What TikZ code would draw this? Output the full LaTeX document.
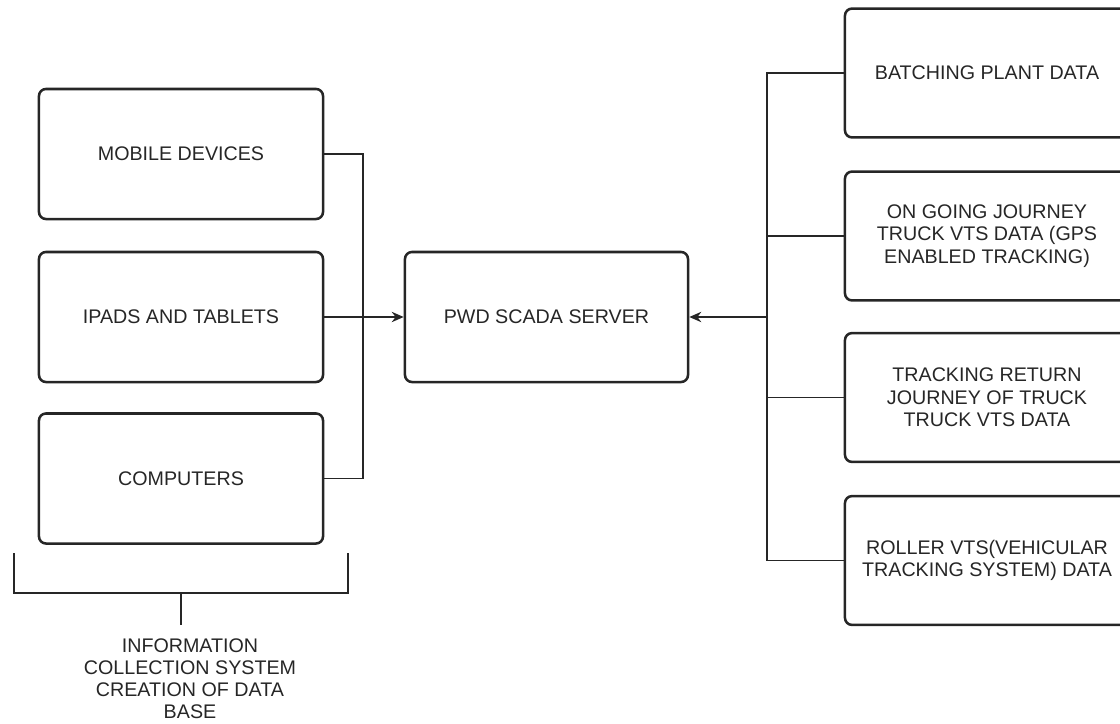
\documentclass[tikz,border=0pt]{standalone}
\usepackage{fontspec}
\setmainfont{Liberation Sans}
\usetikzlibrary{arrows.meta}

\begin{document}
\begin{tikzpicture}[x=0.025cm, y=-0.025cm,
        box/.style={draw=black!85, line width=1.8pt, rounded corners=5pt, align=center,
            text=black!85, font=\fontsize{14}{16}\selectfont, inner sep=2pt},
        leftbox/.style={box, minimum width=7.1cm, minimum height=3.25cm},
        rightbox/.style={box, minimum width=7.1cm, minimum height=3.22cm},
        link/.style={draw=black!85, line width=1pt},
        tip/.style={-{Stealth[length=3mm, width=2.6mm]}},
        bracket/.style={draw=black!85, line width=1.8pt}]
        \clip (0,0) rectangle (1120,724);

        \node[leftbox] (mobile) at (181, 154) {MOBILE DEVICES};
        \node[leftbox] (ipads) at (181, 317) {IPADS AND TABLETS};
        \node[leftbox] (computers) at (181, 478.5) {COMPUTERS};

        \node[leftbox, minimum width=7.075cm] (server) at (546.5, 317) {PWD SCADA SERVER};

        \node[rightbox] (batching) at (987, 73) {BATCHING PLANT DATA};
        \node[rightbox] (ongoing) at (987, 236) {ON GOING JOURNEY\\TRUCK VTS DATA (GPS\\ENABLED TRACKING)};
        \node[rightbox] (returnj) at (987, 397.5) {TRACKING RETURN\\JOURNEY OF TRUCK\\TRUCK VTS DATA};
        \node[rightbox] (roller) at (987, 560.5) {ROLLER VTS(VEHICULAR\\TRACKING SYSTEM) DATA};

        \node[text=black!85, align=center, inner sep=1pt, font=\fontsize{14}{15.6}\selectfont] (info) at (190, 679)
            {INFORMATION\\COLLECTION SYSTEM\\CREATION OF DATA\\BASE};

        \coordinate (ltop) at (363, 154);
        \coordinate (lbot) at (363, 478.5);
        \coordinate (rtop) at (767, 73);
        \coordinate (rbot) at (767, 560.5);

        \coordinate (brtl) at (14, 553);
        \coordinate (brbl) at (14, 593);
        \coordinate (brbr) at (348, 593);
        \coordinate (brtr) at (348, 553);
        \coordinate (brmid) at (181, 593);
        \coordinate (brend) at (181, 625);

        \draw[link] (mobile.east) -- (ltop) -- (lbot) -- (computers.east);
        \draw[link, tip] (ipads.east) -- (server.west);

        \draw[link] (batching.west) -- (rtop) -- (rbot) -- (roller.west);
        \draw[link] (ongoing.west) -- (ongoing.west -| rtop);
        \draw[link] (returnj.west) -- (returnj.west -| rtop);
        \draw[link, tip] (server.east -| rtop) -- (server.east);

        \draw[bracket] (brtl) -- (brbl) -- (brbr) -- (brtr);
        \draw[bracket] (brmid) -- (brend);
    \end{tikzpicture}
\end{document}
